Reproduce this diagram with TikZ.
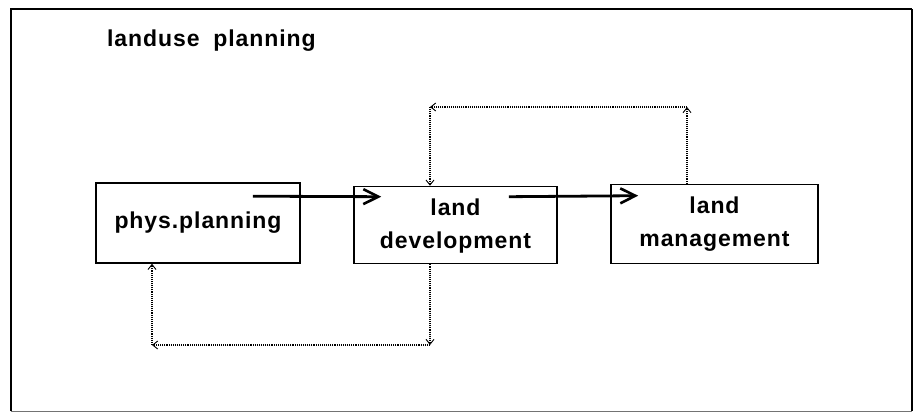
\documentclass[tikz,border=0pt]{standalone}
\usepackage{fontspec}
\setmainfont{Liberation Sans}
\newfontfamily\boxfont[LetterSpace=4]{Liberation Sans}
\usetikzlibrary{arrows.meta}
\begin{document}
\begin{tikzpicture}[x=1pt,y=-1pt,
  label/.style={font=\boxfont\bfseries\fontsize{23}{33}\selectfont, inner sep=0pt},
  block/.style={draw, line width=1.6pt, inner sep=0pt, align=center,
    font=\boxfont\bfseries\fontsize{23}{33}\selectfont},
  flow/.style={line width=2.8pt,
    -{Straight Barb[length=15pt,width=15pt,line width=2.6pt]}},
  feedback/.style={densely dotted, line width=1.1pt,
    -{Straight Barb[open,length=5pt,width=8pt,line width=0.9pt]}}
]
\useasboundingbox (0,0) rectangle (915,413);

% outer frame
\draw[line width=2.6pt] (11,411) -- (11,9) -- (912,9);
\draw[line width=1.3pt] (912,9) -- (912,411);
\draw[line width=1pt, black!55] (11,411) -- (912,411);

% title
\node[label, anchor=base west] (title) at (107,46) {landuse\hspace{0.6em}planning};

% activity boxes
\node[block, minimum width=204pt, minimum height=80pt] (phys) at (198,223) {\raisebox{-4pt}{phys.planning}};
\node[block, minimum width=203pt, minimum height=77pt] (dev) at (455.5,225)
  {\raisebox{-3pt}{\begin{tabular}{@{}c@{}}land\\development\end{tabular}}};
\node[block, minimum width=207pt, minimum height=79pt] (mgmt) at (714.5,224) {land\\management};

% main flow
\draw[flow] ([xshift=-48pt,yshift=-14pt]phys.north east) -- ([xshift=28pt,yshift=-11pt]dev.north west);
\draw[flow] ([xshift=-49pt,yshift=-11pt]dev.north east) -- ([xshift=28pt,yshift=-12pt]mgmt.north west);

% feedback loops
\coordinate (tr) at (687,107);
\coordinate (tl) at (430,107);
\coordinate (br) at (430,345);
\coordinate (bl) at (152,345);
\draw[feedback] (tr |- mgmt.north) -- (tr);
\draw[feedback] (tr) -- (tl);
\draw[feedback] (tl) -- (tl |- dev.north);
\draw[feedback] (br |- dev.south) -- (br);
\draw[feedback] (br) -- (bl);
\draw[feedback] (bl) -- (bl |- phys.south);
\end{tikzpicture}
\end{document}
